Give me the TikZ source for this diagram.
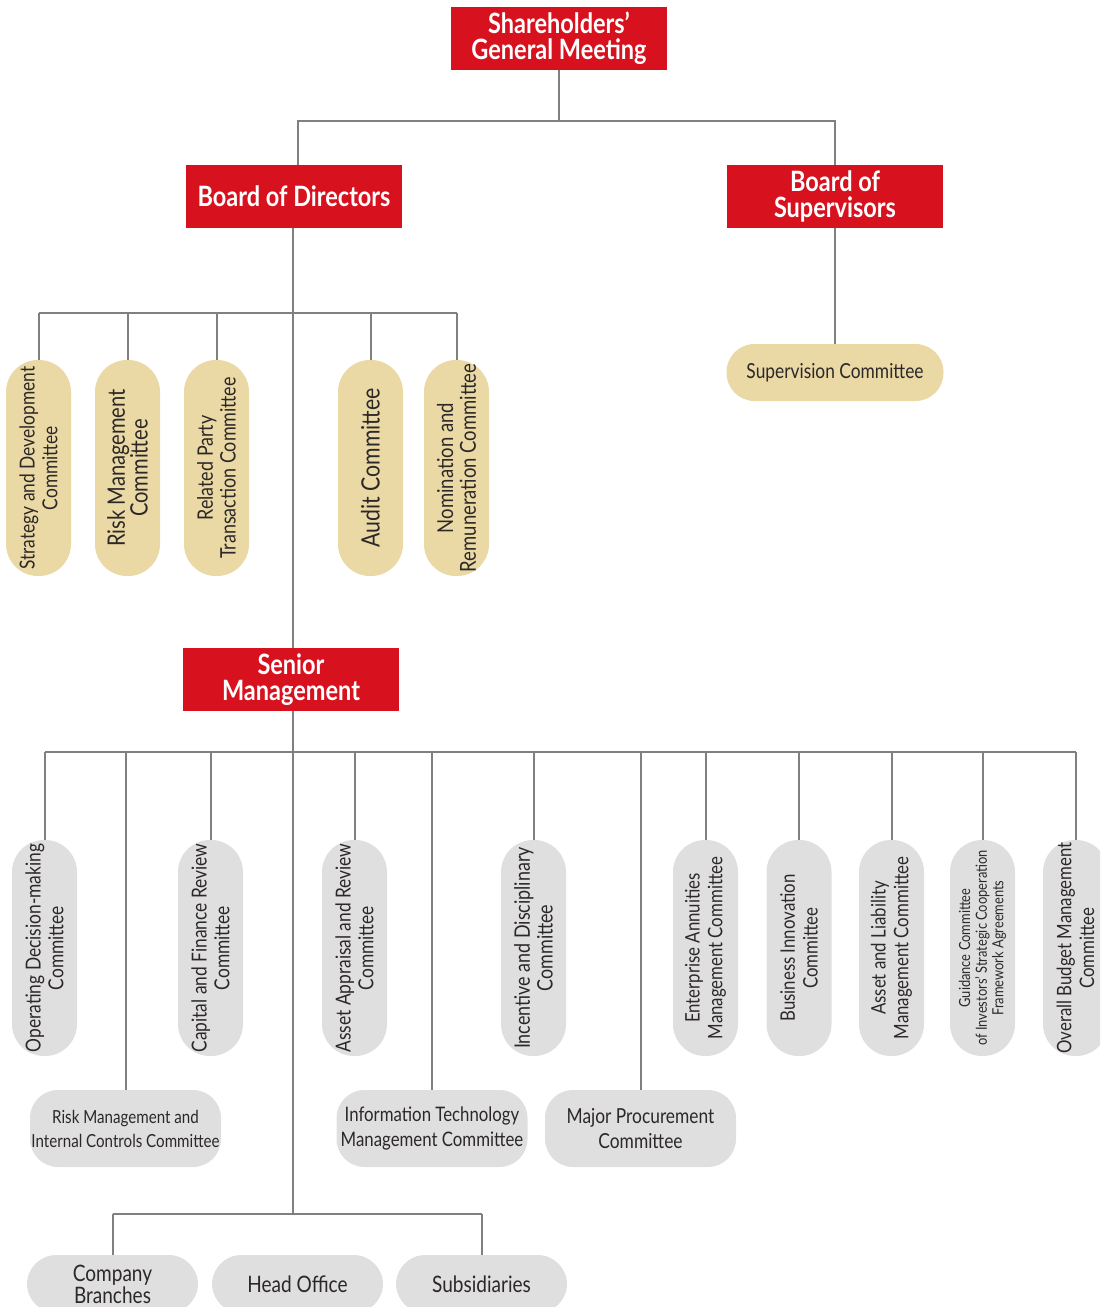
\documentclass[tikz,border=0pt]{standalone}
\usepackage{fontspec}
\setmainfont[FakeStretch=0.84]{Lato}
\usetikzlibrary{shapes.misc,positioning}

\definecolor{cnred}{RGB}{215,17,30}
\definecolor{cntan}{RGB}{234,217,165}
\definecolor{cngrey}{RGB}{223,223,223}
\definecolor{cnline}{RGB}{128,128,128}
\definecolor{cntext}{RGB}{45,40,40}

\tikzset{
  redbox/.style={fill=cnred, text=white, inner sep=0pt, align=center,
    minimum width=162pt, minimum height=47.25pt,
    font=\fontsize{21}{19.5}\selectfont\bfseries},
  pill/.style={inner sep=0pt, align=center, text=cntext,
    font=\fontsize{15}{17}\selectfont},
  tanup/.style={pill, rectangle, rounded corners=24pt, fill=cntan, rotate=90,
    minimum width=162pt, minimum height=48.75pt,
    font=\fontsize{15.5}{17}\selectfont},
  greyup/.style={pill, rectangle, rounded corners=24pt, fill=cngrey, rotate=90,
    minimum width=162pt, minimum height=48.75pt},
  greyflat/.style={pill, rectangle, rounded corners=21pt, fill=cngrey,
    minimum width=143.25pt, minimum height=57.75pt},
  unitbox/.style={pill, rectangle, rounded corners=22pt, fill=cngrey,
    minimum width=128.25pt, minimum height=43.5pt,
    font=\fontsize{17}{16.5}\selectfont},
  conn/.style={draw=cnline, line width=1.5pt},
}

\begin{document}
\begin{tikzpicture}[x=0.75pt,y=0.75pt,yscale=-1,xscale=1]

\useasboundingbox (0,0) rectangle (1100,1307);
\clip (0,0) rectangle (1100,1307);

% Red Boxes
\node [redbox] (sgm) at (559,38.5) {Shareholders’\\General Meeting};
\node [redbox] (bod) at (294,196.5) {Board of Directors};
\node [redbox] (bos) at (835,196.5) {Board of\\Supervisors};
\node [redbox] (sm) at (291,679.5) {Senior\\Management};

% Supervisors
\node [pill, rectangle, rounded corners=21pt, fill=cntan, minimum width=162.75pt, minimum height=42.75pt, font=\fontsize{15.5}{17}\selectfont] (spc) at (835,372.5) {Supervision Committee};

% Board committees
\node [tanup] (sdc) at (38.5,468) {Strategy and Development\\Committee};
\node [tanup, font=\fontsize{18}{17}\selectfont] (rmc) at (127.5,468) {Risk Management\\Committee};
\node [tanup, font=\fontsize{16}{17}\selectfont] (rpt) at (216.5,468) {Related Party\\Transaction Committee};
\node [tanup, font=\fontsize{19}{17}\selectfont] (auc) at (370.5,468) {Audit Committee};
\node [tanup, font=\fontsize{16.5}{17}\selectfont] (nrc) at (456.5,468) {Nomination and\\Remuneration Committee};

% Management committees
\node [greyup, font=\fontsize{15.5}{17}\selectfont] (odc) at (44.5,948) {Operating Decision-making\\Committee};
\node [greyup, font=\fontsize{15.5}{17}\selectfont] (cfr) at (210.5,948) {Capital and Finance Review\\Committee};
\node [greyup, font=\fontsize{15.5}{17}\selectfont] (aar) at (354.5,948) {Asset Appraisal and Review\\Committee};
\node [greyup, font=\fontsize{16}{17}\selectfont] (idc) at (533.5,948) {Incentive and Disciplinary\\Committee};
\node [greyup] (eam) at (705.5,948) {Enterprise Annuities\\Management Committee};
\node [greyup] (bic) at (799,948) {Business Innovation\\Committee};
\node [greyup] (alm) at (891.5,948) {Asset and Liability\\Management Committee};
\node [greyup, font=\fontsize{11.5}{12.5}\selectfont] (gcs) at (982.5,948) {Guidance Committee\\of Investors’ Strategic Cooperation\\Framework Agreements};
\node [greyup] (obm) at (1075.5,948) {Overall Budget Management\\Committee};

\node [greyflat, font=\fontsize{13.5}{18}\selectfont] (ric) at (125.5,1128.5) {Risk Management and\\Internal Controls Committee};
\node [greyflat, font=\fontsize{15}{18.5}\selectfont] (itm) at (432,1128.5) {Information Technology\\Management Committee};
\node [greyflat, font=\fontsize{15.5}{18.5}\selectfont] (mpc) at (640.5,1128.5) {Major Procurement\\Committee};

% Units
\node [unitbox] (cbr) at (112.5,1284) {Company\\Branches};
\node [unitbox] (hof) at (297.5,1284) {Head Office};
\node [unitbox] (sub) at (481.5,1284) {Subsidiaries};

% Bus points
\coordinate (topbus) at (559,121);
\coordinate (bodbus) at (293,313);
\coordinate (smbus) at (293,752);
\coordinate (unitbus) at (293,1214);

% Connectors
\draw [conn] (sgm.south) -- (topbus);
\draw [conn] (bod.north -| 298,0) |- (topbus) -| (bos.north);
\draw [conn] (bos.south) -- (spc.north);
\draw [conn] (bod.south -| bodbus) -- (sm.north -| bodbus);
\draw [conn] (sdc.east |- bodbus) -- (nrc.east |- bodbus);
\foreach \n in {sdc,rmc,rpt,auc,nrc}
  \draw [conn] (\n.east) -- (\n.east |- bodbus);
\draw [conn] (sm.south -| smbus) -- (unitbus);
\draw [conn] (odc.east |- smbus) -- (obm.east |- smbus);
\foreach \n in {odc,cfr,aar,idc,eam,bic,alm,gcs,obm}
  \draw [conn] (\n.east) -- (\n.east |- smbus);
\foreach \n in {ric,itm,mpc}
  \draw [conn] (\n.north) -- (\n.north |- smbus);
\draw [conn] (cbr.north |- unitbus) -- (sub.north |- unitbus);
\foreach \n in {cbr,sub}
  \draw [conn] (\n.north) -- (\n.north |- unitbus);

\end{tikzpicture}
\end{document}
